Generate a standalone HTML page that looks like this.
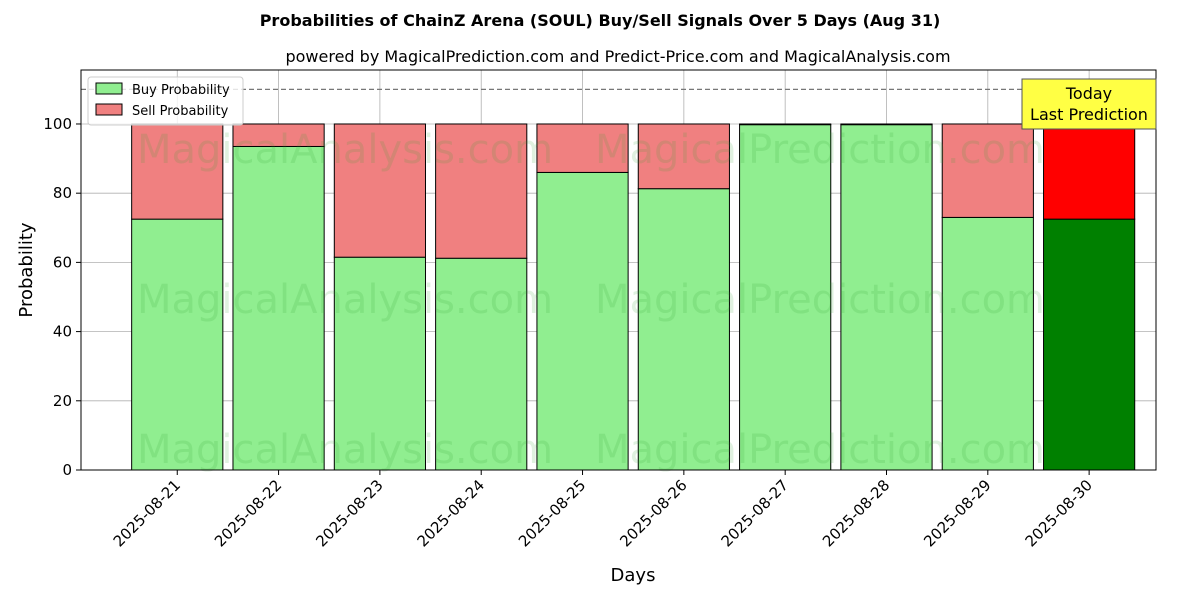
<!DOCTYPE html>
<html><head><meta charset="utf-8"><style>
body{margin:0;background:#fff;font-family:"Liberation Sans","DejaVu Sans",sans-serif;}
</style></head><body>
<svg width="1200" height="600" viewBox="0 0 1200 600" xmlns="http://www.w3.org/2000/svg" font-family="'DejaVu Sans','Liberation Sans',sans-serif">
<rect width="1200" height="600" fill="#fff"/>
<text x="600" y="26" text-anchor="middle" font-size="16" font-weight="bold">Probabilities of ChainZ Arena (SOUL) Buy/Sell Signals Over 5 Days (Aug 31)</text>
<text x="618" y="62" text-anchor="middle" font-size="16">powered by MagicalPrediction.com and Predict-Price.com and MagicalAnalysis.com</text>
<g id="grid"></g>
<g id="bars"></g>
<g id="wm" font-size="40" fill="#2ca02c" fill-opacity="0.15">
<text x="345" y="163" text-anchor="middle">MagicalAnalysis.com</text>
<text x="820" y="163" text-anchor="middle">MagicalPrediction.com</text>
<text x="345" y="313" text-anchor="middle">MagicalAnalysis.com</text>
<text x="820" y="313" text-anchor="middle">MagicalPrediction.com</text>
<text x="345" y="463" text-anchor="middle">MagicalAnalysis.com</text>
<text x="820" y="463" text-anchor="middle">MagicalPrediction.com</text>
</g>
<g id="axes"></g>
<rect x="81" y="70" width="1075" height="400" fill="none" stroke="#000" stroke-width="1"/>
<text x="633" y="581" text-anchor="middle" font-size="18">Days</text>
<text x="32" y="270" text-anchor="middle" font-size="18" transform="rotate(-90 32 270)">Probability</text>
<g>
<rect x="88" y="77" width="155" height="48" fill="#fff" fill-opacity="0.8" stroke="#ccc" rx="3"/>
<rect x="96" y="83" width="26" height="11" fill="#90ee90" stroke="#000"/>
<text x="132" y="94" font-size="13">Buy Probability</text>
<rect x="96" y="104" width="26" height="11" fill="#f08080" stroke="#000"/>
<text x="132" y="115" font-size="13">Sell Probability</text>
</g>
<g>
<rect x="1022" y="79" width="134" height="50" fill="#ffff44" stroke="#555"/>
<text x="1089" y="99" text-anchor="middle" font-size="16">Today</text>
<text x="1089" y="120" text-anchor="middle" font-size="16">Last Prediction</text>
</g>
</svg>
<script>
const categories=["2025-08-21","2025-08-22","2025-08-23","2025-08-24","2025-08-25","2025-08-26","2025-08-27","2025-08-28","2025-08-29","2025-08-30"];
const buyValues=[72.5,93.5,61.5,61.2,86,81.3,99.8,99.8,73,72.5];
const sellValues=[27.5,6.5,38.5,38.8,14,18.7,0.2,0.2,27,27.5];
const yTicks=[0,20,40,60,80,100];
const refLine=110;
const NS="http://www.w3.org/2000/svg";
const L=81,R=1156,T=70,B=470,yMax=115.6,xMin=-0.95,xMax=9.66;
const y=v=>B-v/yMax*(B-T);
const x=i=>L+(i-xMin)/(xMax-xMin)*(R-L);
const bw=0.9*(R-L)/(xMax-xMin);
function mk(tag,attrs,parent){const e=document.createElementNS(NS,tag);for(const k in attrs)e.setAttribute(k,attrs[k]);parent.appendChild(e);return e;}
const grid=document.getElementById('grid'),bars=document.getElementById('bars'),axes=document.getElementById('axes');
yTicks.forEach(t=>{
 const g=mk('line',{x1:L,x2:R,y1:y(t),y2:y(t),stroke:'#b0b0b0','stroke-width':0.8},grid);
 
 
 mk('line',{x1:L-5,x2:L,y1:y(t),y2:y(t),stroke:'#000'},axes);
 const tx=mk('text',{x:L-9,y:y(t)+5,'text-anchor':'end','font-size':15},axes);tx.textContent=t;
 
 
});
categories.forEach((c,i)=>{
 const gl=mk('line',{x1:x(i),x2:x(i),y1:T,y2:B,stroke:'#b0b0b0','stroke-width':0.8},grid);
 
 
 const last=i===categories.length-1;
 const b=mk('rect',{x:x(i)-bw/2,y:y(buyValues[i]),width:bw,height:y(0)-y(buyValues[i]),fill:last?'#008000':'#90ee90',stroke:'#000','stroke-width':1},bars);
 
 
 const s=mk('rect',{x:x(i)-bw/2,y:y(buyValues[i]+sellValues[i]),width:bw,height:y(buyValues[i])-y(buyValues[i]+sellValues[i]),fill:last?'#ff0000':'#f08080',stroke:'#000','stroke-width':1},bars);
 
 
 mk('line',{x1:x(i),x2:x(i),y1:B,y2:B+5,stroke:'#000'},axes);
 const tx=mk('text',{x:x(i)+4,y:B+16,'text-anchor':'end','font-size':15,transform:`rotate(-45 ${x(i)+4} ${B+16})`},axes);tx.textContent=c;
 
 
});
const rl=mk('line',{x1:L,x2:R,y1:y(refLine),y2:y(refLine),stroke:'#777','stroke-dasharray':'5,3','stroke-width':1.2},bars);


</script>
</body></html>
